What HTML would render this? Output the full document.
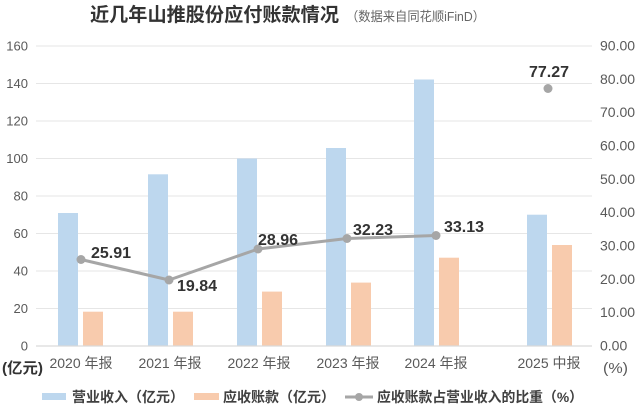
<!DOCTYPE html>
<html>
<head>
<meta charset="utf-8">
<style>
html,body{margin:0;padding:0;background:#fff;}
svg{display:block;}
text{font-family:"Liberation Sans","Noto Sans CJK SC",sans-serif;}
</style>
</head>
<body>
<svg width="640" height="410" viewBox="0 0 640 410" xmlns="http://www.w3.org/2000/svg">
<rect width="640" height="410" fill="#fff"/>
<!-- title -->
<text x="90" y="21" font-size="19" font-weight="bold" fill="#333" textLength="249" lengthAdjust="spacingAndGlyphs">近几年山推股份应付账款情况</text>
<text x="346" y="21" font-size="13" fill="#666" textLength="139" lengthAdjust="spacingAndGlyphs">（数据来自同花顺iFinD）</text>

<!-- gridlines -->
<g stroke="#e6e6e6" stroke-width="1">
<line x1="36" x2="592" y1="46" y2="46"/>
<line x1="36" x2="592" y1="83.5" y2="83.5"/>
<line x1="36" x2="592" y1="121" y2="121"/>
<line x1="36" x2="592" y1="158.5" y2="158.5"/>
<line x1="36" x2="592" y1="196" y2="196"/>
<line x1="36" x2="592" y1="233.5" y2="233.5"/>
<line x1="36" x2="592" y1="271" y2="271"/>
<line x1="36" x2="592" y1="308.5" y2="308.5"/>
</g>

<!-- left axis labels -->
<g font-size="13" fill="#595959" text-anchor="end">
<text x="28" y="50.5">160</text>
<text x="28" y="88">140</text>
<text x="28" y="125.5">120</text>
<text x="28" y="163">100</text>
<text x="28" y="200.5">80</text>
<text x="28" y="238">60</text>
<text x="28" y="275.5">40</text>
<text x="28" y="313">20</text>
<text x="28" y="350.5">0</text>
</g>
<!-- right axis labels -->
<g font-size="14" fill="#595959">
<text x="600" y="50.5">90.00</text>
<text x="600" y="83.8">80.00</text>
<text x="600" y="117.2">70.00</text>
<text x="600" y="150.5">60.00</text>
<text x="600" y="183.8">50.00</text>
<text x="600" y="217.2">40.00</text>
<text x="600" y="250.5">30.00</text>
<text x="600" y="283.8">20.00</text>
<text x="600" y="317.2">10.00</text>
<text x="600" y="350.5">0.00</text>
</g>

<!-- bars blue -->
<g fill="#bdd7ee">
<rect x="58" y="213" width="20" height="133"/>
<rect x="148" y="174.3" width="20" height="171.7"/>
<rect x="237" y="158.5" width="20" height="187.5"/>
<rect x="326" y="148" width="20" height="198"/>
<rect x="414" y="79.5" width="20" height="266.5"/>
<rect x="527" y="214.7" width="20" height="131.3"/>
</g>
<!-- bars orange -->
<g fill="#f8cbad">
<rect x="83" y="311.7" width="20" height="34.3"/>
<rect x="173" y="311.7" width="20" height="34.3"/>
<rect x="262" y="291.6" width="20" height="54.4"/>
<rect x="351" y="282.6" width="20" height="63.4"/>
<rect x="439" y="257.7" width="20" height="88.3"/>
<rect x="552" y="245" width="20" height="101"/>
</g>

<!-- zero axis -->
<line x1="36" x2="592" y1="346" y2="346" stroke="#d9d9d9" stroke-width="1.2"/>

<!-- line series -->
<polyline points="81,259.5 169,280 258,249 347,238.5 436,235.5" fill="none" stroke="#a6a6a6" stroke-width="3" stroke-linejoin="round"/>
<g fill="#a6a6a6">
<circle cx="81" cy="259.5" r="4.5"/>
<circle cx="169" cy="280" r="4.5"/>
<circle cx="258" cy="249" r="4.5"/>
<circle cx="347" cy="238.5" r="4.5"/>
<circle cx="436" cy="235.5" r="4.5"/>
<circle cx="548" cy="88.5" r="4.5"/>
</g>
<!-- data labels -->
<g font-size="16" font-weight="bold" fill="#333">
<text x="91" y="258">25.91</text>
<text x="177" y="291">19.84</text>
<text x="258" y="245">28.96</text>
<text x="353" y="235">32.23</text>
<text x="444" y="232">33.13</text>
<text x="529" y="77">77.27</text>
</g>

<!-- category labels -->
<g font-size="14" fill="#595959" text-anchor="middle">
<text x="81" y="368">2020 年报</text>
<text x="170" y="368">2021 年报</text>
<text x="259" y="368">2022 年报</text>
<text x="348" y="368">2023 年报</text>
<text x="436" y="368">2024 年报</text>
<text x="549" y="368">2025 中报</text>
</g>
<text x="2" y="373" font-size="15" font-weight="bold" fill="#333" textLength="41" lengthAdjust="spacingAndGlyphs">(亿元)</text>
<text x="603" y="373" font-size="15" fill="#595959" textLength="25" lengthAdjust="spacingAndGlyphs">(%)</text>

<!-- legend -->
<rect x="42" y="393" width="24" height="7" fill="#bdd7ee"/>
<text x="72" y="402" font-size="14" font-weight="bold" fill="#404040" textLength="112" lengthAdjust="spacingAndGlyphs">营业收入（亿元）</text>
<rect x="194" y="393" width="25" height="7" fill="#f8cbad"/>
<text x="223" y="402" font-size="14" font-weight="bold" fill="#404040" textLength="112" lengthAdjust="spacingAndGlyphs">应收账款（亿元）</text>
<line x1="345" x2="373" y1="397" y2="397" stroke="#a6a6a6" stroke-width="3"/>
<circle cx="359" cy="397" r="4" fill="#a6a6a6"/>
<text x="377" y="402" font-size="14" font-weight="bold" fill="#404040" textLength="206" lengthAdjust="spacingAndGlyphs">应收账款占营业收入的比重（%）</text>
</svg>
</body>
</html>
